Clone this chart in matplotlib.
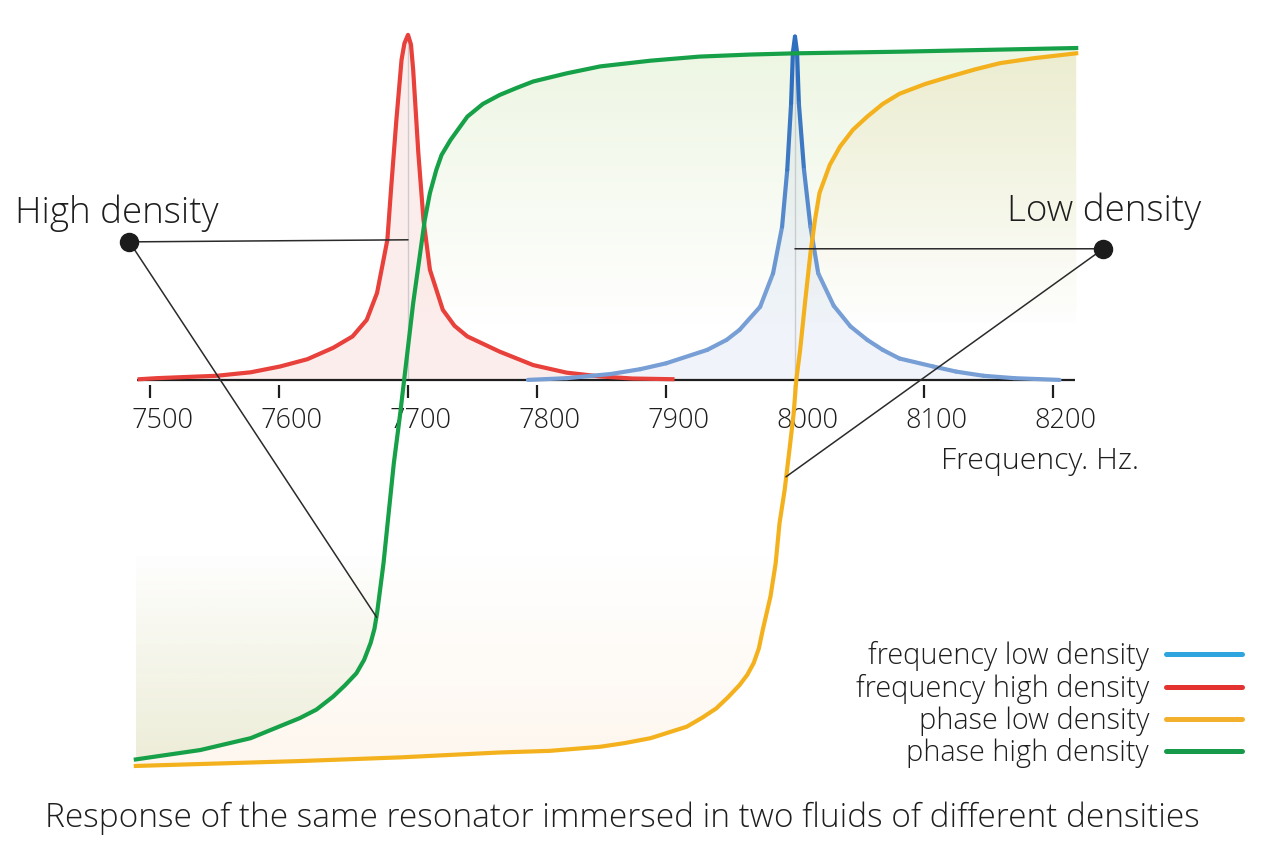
import numpy as np
import matplotlib
matplotlib.use("Agg")
import matplotlib.pyplot as plt
from matplotlib.patches import Polygon
from matplotlib.lines import Line2D
from matplotlib.collections import LineCollection
from matplotlib.colors import to_rgb
from matplotlib.transforms import Affine2D

plt.rcParams['font.family'] = ['Open Sans', 'DejaVu Sans']
plt.rcParams['font.weight'] = 'light'

# amplitude, high density (red)
red_hz = [7492, 7505, 7552, 7570, 7578, 7601, 7622, 7642, 7657, 7668, 7676, 7681, 7684, 7687,
          7691, 7695, 7697.2, 7700, 7702.3, 7704, 7708, 7712, 7717, 7727, 7736, 7746, 7771,
          7797, 7823, 7849, 7874, 7905]
red_amp = [0.002, 0.005, 0.012, 0.019, 0.022, 0.039, 0.060, 0.093, 0.126, 0.174, 0.252, 0.348,
           0.406, 0.560, 0.754, 0.928, 0.975, 1.0, 0.972, 0.899, 0.658, 0.464, 0.319, 0.203,
           0.157, 0.126, 0.082, 0.043, 0.021, 0.010, 0.004, 0.002]

# amplitude, low density (blue)
blue_hz = [7793, 7823, 7857, 7880, 7900, 7932, 7947, 7957, 7973, 7983, 7990, 7994, 7997, 7998.4,
           8000, 8001.6, 8003, 8007, 8012, 8018, 8030, 8043, 8056, 8068, 8081, 8107, 8125,
           8146, 8170, 8205]
blue_amp = [0.0, 0.005, 0.017, 0.031, 0.048, 0.087, 0.116, 0.145, 0.212, 0.309, 0.444, 0.609,
            0.802, 0.950, 0.995, 0.950, 0.802, 0.609, 0.444, 0.309, 0.215, 0.155, 0.116, 0.087,
            0.062, 0.039, 0.024, 0.012, 0.005, 0.0]

# phase (degrees), high density (green)
green_hz = [7489, 7539, 7578, 7616, 7629, 7642, 7651, 7660, 7666, 7671, 7674, 7676, 7681, 7685,
            7689, 7694, 7697, 7704, 7713, 7717, 7722, 7726, 7733, 7746, 7758, 7771, 7784,
            7797, 7823, 7849, 7888, 7926, 7965, 8000, 8081, 8218]
green_deg = [3.8, 6.1, 9.0, 13.9, 16.0, 19.2, 21.9, 24.9, 28.2, 32.3, 35.8, 39.6, 51.8, 64.1,
             76.3, 88.6, 96.7, 115.5, 135.9, 142.5, 148.2, 151.8, 155.5, 161.2, 164.3, 166.5,
             168.2, 169.8, 171.8, 173.5, 174.9, 175.9, 176.4, 176.7, 177.1, 178.0]

# phase (degrees), low density (yellow)
yellow_hz = [7489, 7616, 7694, 7771, 7810, 7849, 7868, 7888, 7916, 7928, 7939, 7948, 7957,
             7963, 7968, 7972, 7975, 7981, 7985, 7988, 7992, 7996, 7999, 8001, 8004, 8008, 8012,
             8015.5, 8019, 8027, 8035, 8045, 8056, 8068, 8081, 8101, 8120, 8140, 8159, 8185,
             8218]
yellow_deg = [2.2, 3.4, 4.3, 5.5, 5.9, 6.9, 7.8, 9.0, 11.8, 14.0, 16.3, 19.0, 22.0,
              24.5, 27.4, 31.0, 35.5, 43.7, 51.8, 61.6, 69.8, 80.4, 88.6, 96.7, 104.1, 116.3,
              127.8, 135.9, 142.5, 149.4, 153.9, 158.0, 161.2, 164.3, 166.8, 169.2, 171.0, 172.8,
              174.3, 175.5, 176.7]

ticks = [7500, 7600, 7700, 7800, 7900, 8000, 8100, 8200]

legend_labels = ["frequency low density", "frequency high density",
                 "phase low density", "phase high density"]
legend_colors = ["#2fa5e0", "#e3322f", "#f3b02c", "#17994a"]

RED = "#e8403a"
BLUE_LIGHT = "#779fd6"
BLUE_DARK = "#2f6fbf"
GREEN = "#16a048"
YELLOW = "#f4b11e"
INK = "#1e1e1e"

fig = plt.figure(figsize=(12.72, 8.64), dpi=100)
ax = fig.add_axes([0, 0, 1, 1])
ax.axis('off')

# phase axis mapped onto the amplitude axis: 0 deg -> -1.145, 180 deg -> 0.986
k = (0.9855 + 1.1449) / 180.0
phase_tr = Affine2D().scale(1, k).translate(0, -1.1449) + ax.transData


def gradient_fill(hz, deg, top_rgb, bot_rgb, top_alpha, bot_alpha):
    # area between a phase curve and the frequency axis, tinted more strongly away from the axis
    axis_deg = 96.7
    pts = list(zip(hz, deg)) + [(hz[-1], axis_deg), (hz[0], axis_deg)]
    poly = Polygon(pts, closed=True, facecolor='none', edgecolor='none', transform=phase_tr)
    ax.add_patch(poly)
    ys = np.linspace(-1.2, 1.05, 400)
    img = np.zeros((len(ys), 2, 4))
    up = np.clip((ys - 0.15) / (0.95 - 0.15), 0, 1)
    dn = np.clip((-ys - 0.50) / (1.12 - 0.50), 0, 1)
    for c in range(3):
        img[:, :, c] = np.where(ys > 0, top_rgb[c], bot_rgb[c])[:, None]
    img[:, :, 3] = np.where(ys > 0, top_alpha * up, bot_alpha * dn)[:, None]
    im = ax.imshow(img, extent=(hz[0], hz[-1], ys[0], ys[-1]), origin='lower',
                   aspect='auto', interpolation='bilinear', zorder=1)
    im.set_clip_path(poly)


gradient_fill(green_hz, green_deg, (0.74, 0.86, 0.58), (0.66, 0.80, 0.55), 0.26, 0.24)
gradient_fill(yellow_hz, yellow_deg, (0.90, 0.78, 0.48), (0.99, 0.84, 0.68), 0.18, 0.20)
ax.set_xlim(7383.7, 8369.8)
ax.set_ylim(-1.403, 1.101)

# amplitude curves
ax.fill_between(red_hz, red_amp, 0, color=RED, alpha=0.09, lw=0, zorder=2)
ax.fill_between(blue_hz, blue_amp, 0, color=BLUE_LIGHT, alpha=0.11, lw=0, zorder=2)
ax.vlines([7700, 8000], 0, [1.0, 0.995], color="#cccccc", lw=1, zorder=2)
ax.plot(red_hz, red_amp, color=RED, lw=3, solid_joinstyle='round', zorder=4)

# blue line: darker near the peak
pts = np.column_stack([blue_hz, blue_amp])
segs = np.stack([pts[:-1], pts[1:]], axis=1)
mid = 0.5 * (np.array(blue_amp[:-1]) + np.array(blue_amp[1:]))
w = np.clip((mid - 0.3) / 0.5, 0, 1)[:, None]
cols = (1 - w) * np.array(to_rgb(BLUE_LIGHT)) + w * np.array(to_rgb(BLUE_DARK))
ax.add_collection(LineCollection(segs, colors=cols, lw=3, capstyle='round', joinstyle='round', zorder=4))

# phase curves
ax.plot(green_hz, green_deg, color=GREEN, lw=3, transform=phase_tr, solid_joinstyle='round', zorder=5)
ax.plot(yellow_hz, yellow_deg, color=YELLOW, lw=3, transform=phase_tr, solid_joinstyle='round', zorder=5)

# frequency axis
ax.hlines(0, 7490, 8217, color=INK, lw=1.6, zorder=3)
ax.vlines(ticks, -0.015, -0.052, color=INK, lw=1.6, zorder=3)
for t in ticks:
    ax.text(t + 9.5, -0.118, str(t), ha='center', va='center', fontsize=19.5, color=INK)
ax.text(8113, -0.236, "Frequency. Hz.", ha='left', va='center', fontsize=21.8, color=INK)

# annotations
ax.text(7395, 0.482, "High density", ha='left', va='center', fontsize=26.5, color=INK)
ax.text(8164, 0.488, "Low density", ha='left', va='center', fontsize=26.5, color=INK)
lk = dict(arrowstyle='-', color="#2a2a2a", lw=1.1, shrinkA=0, shrinkB=0)
ax.annotate('', xy=(7700, 0.406), xytext=(7484, 0.40), arrowprops=lk, zorder=6)
ax.annotate('', xy=(7675.7, 38.6), xycoords=phase_tr, xytext=(7484, 0.40),
            textcoords='data', arrowprops=lk, zorder=6)
ax.annotate('', xy=(8000, 0.38), xytext=(8239, 0.38), arrowprops=lk, zorder=6)
ax.annotate('', xy=(7993, 73.0), xycoords=phase_tr, xytext=(8239, 0.38),
            textcoords='data', arrowprops=lk, zorder=6)
ax.plot([7484, 8239], [0.40, 0.38], 'o', color="#1c1c1c", ms=13, zorder=7)

# legend
handles = [Line2D([], [], color=c, lw=3.6, solid_capstyle='round') for c in legend_colors]
fig.legend(handles, legend_labels, loc='upper right', bbox_to_anchor=(1256 / 1272, 1 - 627 / 864),
           frameon=False, markerfirst=False, fontsize=20.8, handlelength=2.6,
           handletextpad=0.6, labelspacing=0.075, borderpad=0, labelcolor=INK)

fig.text(0.4895, 1 - 818 / 864, "Response of the same resonator immersed in two fluids of different densities",
         ha='center', va='center', fontsize=24, color=INK)

fig.savefig("out.png", dpi=100)
